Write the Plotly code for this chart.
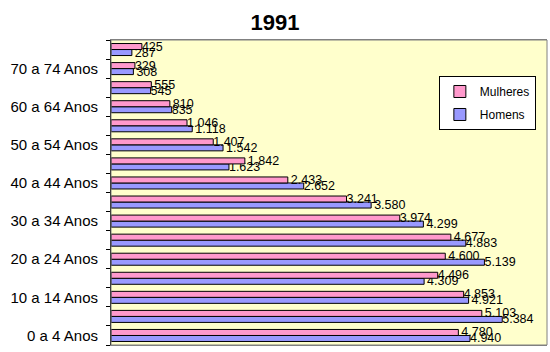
import plotly.graph_objects as go

categories = ["0 a 4 Anos", "5 a 9 Anos", "10 a 14 Anos", "15 a 19 Anos",
              "20 a 24 Anos", "25 a 29 Anos", "30 a 34 Anos", "35 a 39 Anos",
              "40 a 44 Anos", "45 a 49 Anos", "50 a 54 Anos", "55 a 59 Anos",
              "60 a 64 Anos", "65 a 69 Anos", "70 a 74 Anos", "75 Anos e mais"]
mulheres = [4780, 5103, 4853, 4496, 4600, 4677, 3974, 3241, 2433, 1842,
            1407, 1046, 810, 555, 329, 425]
homens = [4940, 5384, 4921, 4309, 5139, 4883, 4299, 3580, 2652, 1623,
          1542, 1118, 835, 545, 308, 287]
tick_text = [c if i % 2 == 0 else "" for i, c in enumerate(categories)]

fig = go.Figure()
fig.add_trace(go.Bar(
    y=categories, x=homens, orientation="h", name="Homens", legendgroup="h",
    legendrank=2,
    marker=dict(color="#9999FF", line=dict(color="#000000", width=1)),
    texttemplate="%{x:,}", textposition="outside", constraintext="none",
    textfont=dict(family="Arial, Liberation Sans, sans-serif", size=12.5, color="#000000"),
    cliponaxis=False,
))
fig.add_trace(go.Bar(
    y=categories, x=mulheres, orientation="h", name="Mulheres", legendgroup="m",
    legendrank=1,
    marker=dict(color="#FF99CC", line=dict(color="#000000", width=1)),
    texttemplate="%{x:,}", textposition="outside", constraintext="none",
    textfont=dict(family="Arial, Liberation Sans, sans-serif", size=12.5, color="#000000"),
    cliponaxis=False,
))

fig.update_layout(
    width=550, height=352,
    margin=dict(l=111, r=3, t=40, b=7),
    paper_bgcolor="#FFFFFF",
    plot_bgcolor="#FFFFCC",
    separators=",.",
    barmode="group",
    bargap=0.37,
    bargroupgap=0,
    font=dict(family="Arial, Liberation Sans, sans-serif", color="#000000"),
    title=dict(text="<b>1991</b>", x=0.5, xanchor="center", y=1 - 22 / 352,
               yanchor="middle", yref="container",
               font=dict(size=22, color="#000000")),
    legend=dict(x=0.752, y=0.882, xanchor="left", yanchor="top",
                bgcolor="#FFFFFF", bordercolor="#000000", borderwidth=1,
                traceorder="grouped", font=dict(size=12),
                itemwidth=30, tracegroupgap=4),
    xaxis=dict(range=[0, 6000], showgrid=False, showticklabels=False, ticks="",
               zeroline=False, showline=True, linecolor="#808080", linewidth=1,
               mirror=True),
    yaxis=dict(categoryorder="array", categoryarray=categories,
               tickvals=categories, ticktext=tick_text,
               tickson="boundaries", ticks="outside", ticklen=4, tickcolor="#000000",
               ticklabelstandoff=9,
               showgrid=False, showline=True, linecolor="#000000", linewidth=1,
               tickfont=dict(size=15, color="#000000"), zeroline=False),
)
fig.add_shape(type="rect", xref="paper", yref="paper", x0=0, x1=1, y0=0, y1=1,
              line=dict(color="#808080", width=1), layer="above")

fig.write_html("out.html")
